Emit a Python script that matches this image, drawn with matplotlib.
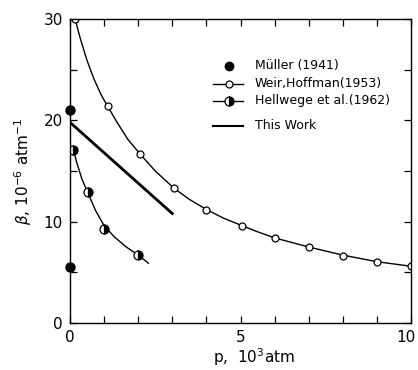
import matplotlib.pyplot as plt
import matplotlib.transforms as mtransforms
import numpy as np

# values (p in 10^3 atm, beta in 10^-6 atm^-1)
muller_p = [0.0, 0.0]
muller_b = [21.0, 5.5]

weir_p = [0.15, 1.1, 2.05, 3.05, 4.0, 5.05, 6.0, 7.0, 8.0, 9.0, 10.0]
weir_b = [30.0, 21.4, 16.7, 13.3, 11.2, 9.6, 8.4, 7.5, 6.6, 6.0, 5.6]
# drawn curve through the Weir points
weir_curve_p = [0.15, 0.3, 0.5, 0.7, 0.9, 1.1, 1.4, 1.7, 2.05, 2.5, 3.05, 3.5, 4.0, 4.5, 5.05, 5.5, 6.0, 7.0, 8.0, 9.0, 10.0]
weir_curve_b = [30.0, 28.1, 25.9, 24.1, 22.6, 21.4, 19.7, 18.1, 16.7, 15.0, 13.3, 12.2, 11.2, 10.35, 9.6, 9.0, 8.4, 7.5, 6.7, 6.05, 5.6]

hell_p = [0.1, 0.53, 1.0, 2.0]
hell_b = [17.1, 12.9, 9.3, 6.7]
hell_curve_p = [0.1, 0.2, 0.35, 0.53, 0.75, 1.0, 1.3, 1.65, 2.0, 2.3]
hell_curve_b = [17.1, 15.8, 14.2, 12.8, 11.1, 9.6, 8.5, 7.5, 6.7, 5.9]

work_p = [0.0, 3.0]
work_b = [19.8, 10.8]

labels = ['Müller (1941)', 'Weir,Hoffman(1953)', 'Hellwege et al.(1962)', 'This Work']

fig = plt.figure(figsize=(4.18, 3.70), dpi=100, facecolor='white')
ax = fig.add_axes([70/418, 1 - 323/370, 341/418, 304/370])

ax.plot(weir_curve_p, weir_curve_b, color='black', lw=1.0)
ax.plot(weir_p, weir_b, 'o', color='black', mfc='white', ms=5, mew=0.9)
ax.plot(hell_curve_p, hell_curve_b, color='black', lw=1.0)
ax.plot(hell_p, hell_b, 'o', color='black', mfc='black', mfcalt='white', fillstyle='right', ms=6.5, mew=0.9)
ax.plot(work_p, work_b, color='black', lw=2.0)
ax.plot(muller_p, muller_b, 'o', color='black', ms=6.5, clip_on=False, zorder=5)

ax.set_xlim(0, 10)
ax.set_ylim(0, 30)
ax.set_xticks(np.arange(0, 11, 1))
ax.set_xticklabels(['0', '', '', '', '', '5', '', '', '', '', '10'])
ax.set_yticks([0, 5, 10, 15, 20, 25, 30])
ax.set_yticklabels(['0', '', '10', '', '20', '', '30'])
ax.tick_params(direction='in', length=5, width=0.9, labelsize=11, top=True, right=True, pad=5)
for s in ax.spines.values():
    s.set_linewidth(1.0)

# nudge the "10" at the right end so it stays inside the picture
shift = mtransforms.ScaledTranslation(-5/100, 0, fig.dpi_scale_trans)
last = ax.get_xticklabels()[-1]
last.set_transform(last.get_transform() + shift)

ax.set_ylabel(r'$\beta$, 10$^{-6}$ atm$^{-1}$', fontsize=11)
ax.yaxis.set_label_coords(-0.105, 0.5)
ax.set_xlabel(r'p,  10$^{3}$atm', fontsize=11, labelpad=0)
ax.xaxis.set_label_coords(0.54, -0.075)

# legend built by hand in axes fraction, rows spaced like the original
def px(x, y):
    return (x - 70) / 341, (323 - y) / 304

rows_y = [66, 84, 101, 126]
for i, (lab, yy) in enumerate(zip(labels, rows_y)):
    x0, y0 = px(213, yy)
    x1, _ = px(243, yy)
    xm, _ = px(229, yy)
    if i == 0:
        ax.plot([xm], [y0], 'o', color='black', ms=6, transform=ax.transAxes)
    elif i == 1:
        ax.plot([x0, x1], [y0, y0], color='black', lw=1.0, transform=ax.transAxes)
        ax.plot([xm], [y0], 'o', color='black', mfc='white', ms=5, mew=0.9, transform=ax.transAxes)
    elif i == 2:
        ax.plot([x0, x1], [y0, y0], color='black', lw=1.0, transform=ax.transAxes)
        ax.plot([xm], [y0], 'o', color='black', mfc='black', mfcalt='white', fillstyle='right',
                ms=6.5, mew=0.9, transform=ax.transAxes)
    else:
        ax.plot([x0, x1], [y0, y0], color='black', lw=1.5, transform=ax.transAxes)
    xt, _ = px(255, yy)
    ax.text(xt, y0, lab, fontsize=9, va='center', ha='left', transform=ax.transAxes)

fig.savefig('out.png', dpi=100)
